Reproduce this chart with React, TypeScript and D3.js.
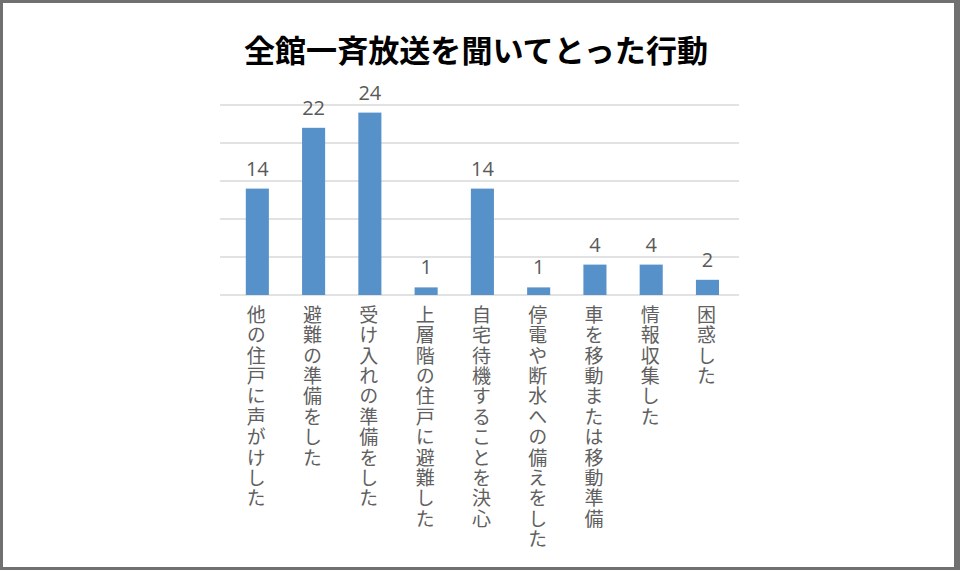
import React from "react";
import * as d3 from "d3";

const categories = [
  "他の住戸に声がけした",
  "避難の準備をした",
  "受け入れの準備をした",
  "上層階の住戸に避難した",
  "自宅待機することを決心",
  "停電や断水への備えをした",
  "車を移動または移動準備",
  "情報収集した",
  "困惑した",
];
const values = [14, 22, 24, 1, 14, 1, 4, 4, 2];
const yTicks = [0, 5, 10, 15, 20, 25];
const title = "全館一斉放送を聞いてとった行動";

const W = 960;
const H = 570;

export default function App() {
  const x = d3
    .scaleBand<string>()
    .domain(categories)
    .range([229.2, 735.6])
    .paddingInner(0.59)
    .paddingOuter(0.295);
  const y = d3.scaleLinear().domain([0, 25]).range([295, 105]);
  const gridX1 = 220;
  const gridX2 = 739;
  const font = "'Noto Sans CJK JP', 'Noto Sans', sans-serif";

  return (
    <svg
      width={W}
      height={H}
      style={{ position: "absolute", left: 0, top: 0, display: "block" }}
    >
      <rect x={0} y={0} width={W} height={H} fill="#707070" />
      <rect x={3} y={3} width={W - 9} height={H - 6} fill="#ffffff" />
      <text
        x={476}
        y={62}
        textAnchor="middle"
        fontFamily={font}
        fontWeight="bold"
        fontSize={31}
        fill="#000000"
        textLength={464}
        lengthAdjust="spacingAndGlyphs"
      >
        {title}
      </text>
      {yTicks.map((t) => (
        <line
          key={t}
          x1={gridX1}
          x2={gridX2}
          y1={y(t)}
          y2={y(t)}
          stroke="#d9d9d9"
          strokeWidth={1.3}
        />
      ))}
      {categories.map((c, i) => (
        <rect
          key={c}
          x={x(c)}
          y={y(values[i])}
          width={x.bandwidth()}
          height={y(0) - y(values[i])}
          fill="#5791C9"
        />
      ))}
      {categories.map((c, i) => (
        <text
          key={"v" + c}
          x={(x(c) as number) + x.bandwidth() / 2}
          y={y(values[i]) - 13}
          textAnchor="middle"
          fontFamily="'Open Sans', 'Noto Sans', sans-serif"
          fontSize={20}
          fill="#595959"
        >
          {values[i]}
        </text>
      ))}
      {categories.map((c) => (
        <text
          key={"c" + c}
          x={(x(c) as number) + x.bandwidth() / 2 - 1}
          y={305}
          fontFamily={font}
          fontSize={19}
          letterSpacing={1.4}
          fill="#606060"
          style={{ writingMode: "vertical-rl" as any }}
        >
          {c}
        </text>
      ))}
    </svg>
  );
}
